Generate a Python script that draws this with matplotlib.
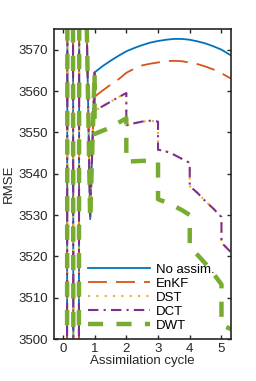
import numpy as np
import matplotlib
matplotlib.use("Agg")
import matplotlib.pyplot as plt

# shared first cycle (all runs identical before the first analysis)
osc_x = [0.04, 0.234, 0.416, 0.604, 0.72, 0.86, 1.0]
osc_y = [2800, 4275, 2800, 4275, 3590, 3529, 3564.5]

noassim_x = [1.25, 1.5, 1.75, 2.0, 2.25, 2.5, 2.75, 3.0, 3.25, 3.5, 3.75,
             4.0, 4.25, 4.5, 4.75, 5.0, 5.3]
noassim_y = [3566.0, 3567.3, 3568.5, 3569.6, 3570.4, 3571.1, 3571.7, 3572.1,
             3572.4, 3572.6, 3572.6, 3572.4, 3572.0, 3571.5, 3570.8, 3570.0, 3568.6]

enkf_x = [1.0, 1.25, 1.5, 1.75, 2.0, 2.25, 2.5, 2.75, 3.0, 3.25, 3.5, 3.75,
          4.0, 4.25, 4.5, 4.75, 5.0, 5.3]
enkf_y = [3558.6, 3560.1, 3561.5, 3562.8, 3564.4, 3565.4, 3566.2, 3566.6, 3566.9,
          3567.2, 3567.3, 3567.2, 3566.9, 3566.5, 3565.9, 3565.2, 3564.3, 3563.0]

# cycles with an analysis jump at every integer time
step_x = [1.0, 1.25, 1.5, 1.75, 2.0, 2.0, 2.25, 2.5, 2.75, 3.0, 3.0, 3.25, 3.5,
          3.75, 4.0, 4.0, 4.25, 4.5, 4.75, 5.0, 5.0, 5.3]
dct_y = [3555.2, 3556.3, 3557.4, 3558.5, 3559.5, 3551.7, 3552.2, 3552.6, 3552.8,
         3552.6, 3545.8, 3545.4, 3544.6, 3543.6, 3542.6, 3537.0, 3535.3, 3533.3,
         3531.5, 3529.5, 3523.3, 3521.0]
dst_y = list(dct_y)
dwt_y = [3549.6, 3550.4, 3551.1, 3552.3, 3553.4, 3542.9, 3543.0, 3543.1, 3543.1,
         3543.0, 3533.8, 3533.1, 3532.2, 3531.2, 3530.0, 3522.3, 3520.3, 3518.2,
         3515.8, 3513.2, 3503.4, 3502.4]

labels = ["No assim.", "EnKF", "DST", "DCT", "DWT"]

plt.rcParams["font.family"] = ["Liberation Sans", "DejaVu Sans"]
plt.rcParams["font.size"] = 9.5

fig = plt.figure(figsize=(2.56, 3.81), dpi=100)
ax = fig.add_axes([54 / 256, 42 / 381, (231.3 - 54) / 256, (339 - 29) / 381])

ax.plot(osc_x + noassim_x, osc_y + noassim_y, color="#0072BD", lw=1.3, label=labels[0])
ax.plot(osc_x + enkf_x, osc_y + enkf_y, color="#D95319", lw=1.3,
        dashes=(10.5, 5), label=labels[1])
ax.plot(osc_x + step_x, osc_y + dst_y, color="#EDB120", lw=1.5,
        dashes=(1, 3), label=labels[2])
ax.plot(osc_x + step_x, osc_y + dct_y, color="#7E2F8E", lw=1.5,
        dashes=(5, 2.5, 1, 2.5), label=labels[3])
ax.plot(osc_x + step_x, osc_y + dwt_y, color="#77AC30", lw=3.2,
        dashes=(3.4, 3.0), label=labels[4])

ax.set_xlim(-0.28, 5.31)
ax.set_ylim(3500, 3575)
ax.set_xticks(range(0, 6))
ax.set_yticks(range(3500, 3571, 10))
ax.tick_params(direction="in", length=3, width=1, top=True, right=True,
               colors="#262626", labelcolor="#262626")
ax.tick_params(axis="y", pad=4)
ax.tick_params(axis="x", pad=3)
for s in ax.spines.values():
    s.set_linewidth(1.2)
    s.set_color("#262626")

ax.set_xlabel("Assimilation cycle", color="#262626", labelpad=0)
ax.set_ylabel("RMSE", color="#262626", labelpad=3)

ax.legend(loc="lower left", bbox_to_anchor=(88 / 256, 49 / 381),
          bbox_transform=fig.transFigure, frameon=False, borderpad=0,
          borderaxespad=0, handlelength=4.7, handletextpad=0.45,
          labelspacing=0.14)

fig.savefig("out.png", dpi=100)
